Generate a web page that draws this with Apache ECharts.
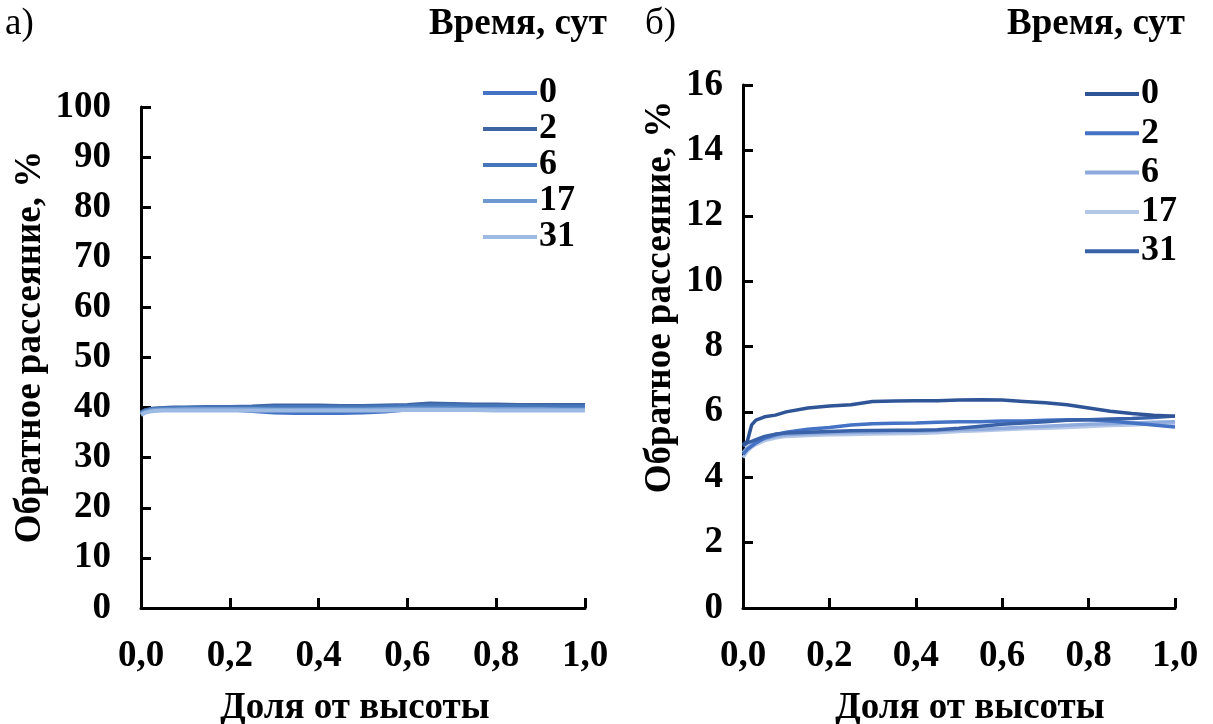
<!DOCTYPE html>
<html>
<head>
<meta charset="utf-8">
<script src="https://cdn.jsdelivr.net/npm/echarts@6/dist/echarts.min.js"></script>
<style>
  html, body { margin: 0; padding: 0; background: #fff; }
  #wrap { position: relative; width: 1213px; height: 724px; }
  #chartA { position: absolute; left: 0; top: 0; width: 620px; height: 724px; }
  #chartB { position: absolute; left: 620px; top: 0; width: 593px; height: 724px; }
</style>
</head>
<body>
<div id="wrap">
  <div id="chartA"></div>
  <div id="chartB"></div>
</div>
<script>
// Доля от высоты образца (общая сетка точек профиля)
const frac = [0, 0.01, 0.02, 0.03, 0.05, 0.075, 0.1, 0.15, 0.2, 0.25, 0.3, 0.35, 0.4,
              0.45, 0.5, 0.55, 0.6, 0.65, 0.7, 0.75, 0.8, 0.85, 0.9, 0.95, 1.0];

// Время хранения, сут
const days = ['0', '2', '6', '17', '31'];

// Панель а): обратное рассеяние, %
const a0  = [38.8, 39.3, 39.5, 39.6, 39.7, 39.8, 39.8, 39.7, 39.6, 39.3, 39.0, 38.9, 38.9,
             38.9, 39.0, 39.2, 39.6, 40.0, 40.1, 40.1, 40.1, 40.1, 40.2, 40.2, 40.3];
const a2  = [39.0, 39.5, 39.7, 39.8, 39.9, 40.0, 40.0, 40.1, 40.1, 40.2, 40.4, 40.4, 40.4,
             40.3, 40.3, 40.4, 40.5, 40.8, 40.7, 40.6, 40.6, 40.5, 40.5, 40.5, 40.5];
const a6  = [38.9, 39.4, 39.6, 39.7, 39.8, 39.9, 39.9, 40.0, 40.0, 40.0, 40.1, 40.1, 40.1,
             40.1, 40.1, 40.2, 40.3, 40.4, 40.4, 40.3, 40.3, 40.3, 40.2, 40.2, 40.2];
const a17 = [38.7, 39.2, 39.4, 39.5, 39.6, 39.6, 39.7, 39.7, 39.7, 39.7, 39.6, 39.6, 39.6,
             39.6, 39.6, 39.7, 39.8, 39.8, 39.8, 39.7, 39.7, 39.7, 39.7, 39.6, 39.6];
const a31 = [38.5, 39.0, 39.2, 39.3, 39.4, 39.4, 39.4, 39.4, 39.4, 39.4, 39.4, 39.4, 39.4,
             39.4, 39.4, 39.4, 39.5, 39.5, 39.5, 39.5, 39.4, 39.4, 39.4, 39.4, 39.4];

// Панель б): обратное рассеяние, %
const b0  = [5.00, 5.10, 5.60, 5.75, 5.85, 5.90, 6.00, 6.12, 6.18, 6.22, 6.32, 6.33, 6.34,
             6.34, 6.36, 6.37, 6.36, 6.32, 6.28, 6.22, 6.12, 6.02, 5.95, 5.90, 5.87];
const b2  = [4.70, 4.85, 4.95, 5.05, 5.20, 5.30, 5.38, 5.47, 5.52, 5.60, 5.64, 5.65, 5.66,
             5.68, 5.70, 5.70, 5.72, 5.72, 5.74, 5.76, 5.76, 5.72, 5.66, 5.60, 5.54];
const b6  = [4.75, 4.90, 5.00, 5.08, 5.18, 5.25, 5.30, 5.33, 5.35, 5.37, 5.38, 5.39, 5.40,
             5.42, 5.45, 5.47, 5.50, 5.53, 5.56, 5.59, 5.62, 5.64, 5.66, 5.68, 5.70];
const b17 = [4.60, 4.80, 4.92, 5.00, 5.12, 5.20, 5.25, 5.28, 5.30, 5.31, 5.32, 5.33, 5.34,
             5.36, 5.40, 5.42, 5.45, 5.48, 5.50, 5.52, 5.55, 5.58, 5.60, 5.63, 5.65];
const b31 = [4.95, 5.05, 5.10, 5.15, 5.25, 5.32, 5.35, 5.38, 5.40, 5.42, 5.43, 5.44, 5.44,
             5.45, 5.50, 5.56, 5.62, 5.66, 5.70, 5.74, 5.76, 5.78, 5.80, 5.83, 5.87];

// Подписи осей
const xTicks = ['0,0', '0,2', '0,4', '0,6', '0,8', '1,0'];
const xName = 'Доля от высоты';
const yName = 'Обратное рассеяние, %';
const legendTitle = 'Время, сут';

const FONT = '"Liberation Serif", "Times New Roman", serif';
const FS = 37;
const pairs = arr => arr.map((v, i) => [frac[i], v]);

function xAxisCfg(namePad) {
  return {
    type: 'value', min: 0, max: 1, interval: 0.2,
    axisLine: { show: true, lineStyle: { color: '#000', width: 3 } },
    axisTick: { show: true, inside: true, length: 10, lineStyle: { color: '#000', width: 3 } },
    splitLine: { show: false },
    axisLabel: {
      margin: 30, color: '#000', fontFamily: FONT, fontWeight: 'bold', fontSize: FS,
      formatter: v => xTicks[Math.round(v / 0.2)]
    },
    name: xName, nameLocation: 'middle', nameGap: 82,
    nameTextStyle: { color: '#000', fontFamily: FONT, fontWeight: 'bold', fontSize: FS,
                     padding: namePad }
  };
}

function yAxisCfg(max, interval, margin) {
  return {
    type: 'value', min: 0, max: max, interval: interval,
    axisLine: { show: true, lineStyle: { color: '#000', width: 3 } },
    axisTick: { show: true, inside: true, length: 10, lineStyle: { color: '#000', width: 3 } },
    splitLine: { show: false },
    axisLabel: { margin: margin, color: '#000', fontFamily: FONT, fontWeight: 'bold', fontSize: FS }
  };
}

function lineSeries(name, values, color, width) {
  return {
    name: name, type: 'line', data: pairs(values), symbol: 'none',
    lineStyle: { color: color, width: width }, itemStyle: { color: color },
    animation: false
  };
}

function header(panel, panelX, titleRight, yNameX, yNameY, containerW) {
  return [
    { type: 'text', left: panelX, top: 6,
      style: { text: panel, font: FS + 'px ' + FONT, fill: '#000' } },
    { type: 'text', right: containerW - titleRight, top: 6,
      style: { text: legendTitle, font: 'bold ' + FS + 'px ' + FONT, fill: '#000' } },
    { type: 'text', x: yNameX, y: yNameY, rotation: Math.PI / 2,
      style: { text: yName, font: 'bold ' + FS + 'px ' + FONT, fill: '#000',
               align: 'center', verticalAlign: 'middle' } }
  ];
}

function legendCfg(left, top, gap) {
  return {
    orient: 'vertical', left: left, top: top, itemWidth: 54, itemHeight: 14, itemGap: gap,
    icon: 'path://M0,6L54,6L54,10L0,10Z',
    data: days,
    textStyle: { color: '#000', fontFamily: FONT, fontWeight: 'bold', fontSize: 36,
                 lineHeight: 34, padding: [0, 0, 0, -3] }
  };
}

// Панель а)
const colorsA = ['#4472C4', '#3E64A2', '#4676BA', '#6E98CF', '#9CBAE2'];
const chartA = echarts.init(document.getElementById('chartA'), null, { renderer: 'canvas' });
chartA.setOption({
  animation: false,
  grid: { left: 141, right: 35, top: 107, bottom: 116, outerBoundsMode: 'none', containLabel: false },
  xAxis: xAxisCfg([0, 16, 0, 0]),
  yAxis: yAxisCfg(100, 10, 30),
  legend: legendCfg(478, 70, 0),
  graphic: header('а)', 5, 607, 30, 347, 620),
  series: [
    lineSeries('0', a0, colorsA[0], 4),
    lineSeries('2', a2, colorsA[1], 4),
    lineSeries('6', a6, colorsA[2], 4),
    lineSeries('17', a17, colorsA[3], 4),
    lineSeries('31', a31, colorsA[4], 4)
  ]
});

// Панель б)
const colorsB = ['#2F5597', '#4472C4', '#8FAADC', '#B4C7E7', '#3A62A8'];
const chartB = echarts.init(document.getElementById('chartB'), null, { renderer: 'canvas' });
chartB.setOption({
  animation: false,
  grid: { left: 123, right: 38, top: 85, bottom: 116, outerBoundsMode: 'none', containLabel: false },
  xAxis: xAxisCfg([0, 0, 0, 22]),
  yAxis: yAxisCfg(16, 2, 20),
  legend: legendCfg(460, 71, 3.3),
  graphic: header('б)', 25, 565, 40, 297, 593),
  series: [
    lineSeries('17', b17, colorsB[3], 3.5),
    lineSeries('6', b6, colorsB[2], 3.5),
    lineSeries('2', b2, colorsB[1], 3.5),
    lineSeries('31', b31, colorsB[4], 3.5),
    lineSeries('0', b0, colorsB[0], 3.5)
  ]
});
</script>
</body>
</html>
